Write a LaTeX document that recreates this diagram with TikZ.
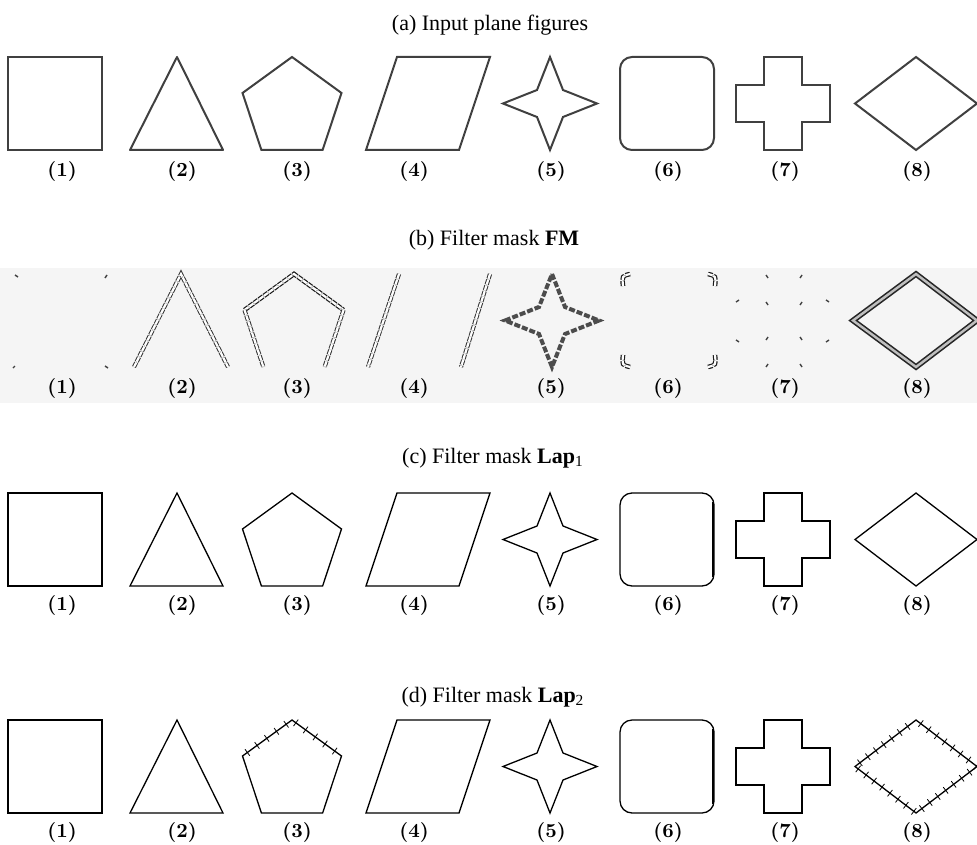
\documentclass[tikz,border=0pt]{standalone}
\usepackage{fontspec}
\newfontfamily\capfont{Liberation Serif}
\usetikzlibrary{decorations.markings}
% outlines of the eight plane figures, top edge of a row at y=0
\newcommand{\pSquare}{(8,0) rectangle (102,93)}
\newcommand{\pTriangle}{(177,0) -- (223,93) -- (130,93) -- cycle}
\newcommand{\pPentagon}{(292,0) -- (341.5,36) -- (322.6,93) -- (261.4,93) -- (242.5,36) -- cycle}
\newcommand{\pRhomboid}{(397,0) -- (490,0) -- (459,93) -- (366,93) -- cycle}
\newcommand{\pStar}{(550,0) -- (563,33) -- (597,46.5) -- (563,60) -- (550,93) -- (537,60) -- (503,46.5) -- (537,33) -- cycle}
\newcommand{\pRounded}{(620,0) rectangle (714,93)}
\newcommand{\pCross}{(764,0) -- (802,0) -- (802,28) -- (830,28) -- (830,65) -- (802,65) -- (802,93) -- (764,93) -- (764,65) -- (736,65) -- (736,28) -- (764,28) -- cycle}
\newcommand{\pDiamond}{(916,0) -- (977,46.5) -- (916,93) -- (855,46.5) -- cycle}
% the numbers under a row
\newcommand{\numrow}[2]{%
  \node[num] (#11) at (62,#2) {(1)};
  \node[num] (#12) at (182,#2) {(2)};
  \node[num] (#13) at (297,#2) {(3)};
  \node[num] (#14) at (414,#2) {(4)};
  \node[num] (#15) at (551,#2) {(5)};
  \node[num] (#16) at (668,#2) {(6)};
  \node[num] (#17) at (785,#2) {(7)};
  \node[num] (#18) at (917,#2) {(8)};}

\begin{document}
\begin{tikzpicture}[x=0.5pt,y=-0.5pt,
shp/.style={draw=black!75,line width=1pt},
lapline/.style={draw=black,line width=0.65pt},
fm/.style={draw=black!80,line width=0.5pt,double=white,double distance=1.1pt,dash pattern=on 2.5pt off 0.5pt},
fmbold/.style={fm,draw=black!90,line width=0.6pt},
fmstar/.style={draw=black!70,line width=2pt,dash pattern=on 3pt off 1pt},
fmdiam/.style={draw=black!85,line width=0.8pt,double=black!25,double distance=1.2pt},
speck/.style={draw=black!75,line width=0.7pt},
hatch/.style={postaction={decorate},decoration={markings,mark=between positions 3pt and -3pt step #1 with {\draw[black,line width=0.4pt] (0,-2pt) -- (0,2pt);}}},
figcap/.style={font=\capfont\fontsize{11}{13}\selectfont},
num/.style={font=\fontsize{10}{12}\selectfont\bfseries}]
\clip (0,0) rectangle (977,844);
% (a) input
\node[figcap] (capa) at (490,25) {(a) Input plane figures};
\begin{scope}[shift={(0,57)}]
\draw[shp] \pSquare;
\draw[shp,line join=round] \pTriangle;
\draw[shp] \pPentagon;
\draw[shp] \pRhomboid;
\draw[shp] \pStar;
\draw[shp,rounded corners=6pt] \pRounded;
\draw[shp] \pCross;
\draw[shp] \pDiamond;
\end{scope}
\numrow{a}{171}
% (b) FM
\node[figcap] (capb) at (494,240) {(b) Filter mask \textbf{FM}};
\fill[black!4] (0,268) rectangle (977,403);
\begin{scope}[shift={(2,274)}]
\draw[speck] (13,1) -- ++(3,2) (105,1) -- ++(-2,3) (11,94) -- ++(2,-2) (106,94) -- ++(-3,-2);
\draw[fm] (132,93) -- (179,0) -- (226,93);
\draw[fmbold] (242.5,36) -- (292,0) -- (341.5,36);
\draw[fm] (242.5,36) -- (261.4,93) (341.5,36) -- (322.6,93);
\draw[fm] (397,0) -- (366,93) (488,0) -- (459,93);
\draw[fmstar] \pStar;
\draw[fmbold] (621,12) .. controls (620,2) .. (628,0) (713,12) .. controls (714,2) .. (706,0)
  (621,81) .. controls (620,91) .. (628,93) (713,81) .. controls (714,91) .. (706,93);
\draw[speck] (764,1) -- ++(2,3) (800,1) -- ++(-2,3) (734,28) -- ++(3,-2) (764,28) -- ++(2,3)
  (800,28) -- ++(-2,3) (827,28) -- ++(-3,-2) (734,66) -- ++(3,2) (764,66) -- ++(2,-3)
  (800,66) -- ++(-2,-3) (827,66) -- ++(-3,2) (764,93) -- ++(2,-3) (800,93) -- ++(-2,-3);
\draw[fmdiam] (914,0) -- (975,46.5) -- (914,93) -- (851,46.5) -- cycle;
\end{scope}
\numrow{b}{388}
% (c) Lap1
\node[figcap] (capc) at (493,458) {(c) Filter mask \textbf{Lap}\textsubscript{1}};
\begin{scope}[shift={(0,493)}]
\draw[lapline] \pSquare;
\draw[lapline] \pTriangle;
\draw[lapline] \pPentagon;
\draw[lapline] \pRhomboid;
\draw[lapline] \pStar;
\draw[lapline,rounded corners=6pt] \pRounded;
\draw[line width=1.4pt] (713,9) -- (713,84);
\draw[lapline] \pCross;
\draw[lapline] \pDiamond;
\end{scope}
\numrow{c}{605}
% (d) Lap2
\node[figcap] (capd) at (493,697) {(d) Filter mask \textbf{Lap}\textsubscript{2}};
\begin{scope}[shift={(0,720)}]
\draw[lapline] \pSquare;
\draw[lapline] \pTriangle;
\draw[lapline] \pPentagon;
\path[hatch=6pt] (242.5,36) -- (292,0) -- (341.5,36);
\draw[lapline] \pRhomboid;
\draw[lapline] \pStar;
\draw[lapline,rounded corners=6pt] \pRounded;
\draw[line width=1.4pt] (713,9) -- (713,84);
\draw[lapline] \pCross;
\draw[lapline,hatch=5pt] \pDiamond;
\end{scope}
\numrow{d}{832}
\end{tikzpicture}
\end{document}
